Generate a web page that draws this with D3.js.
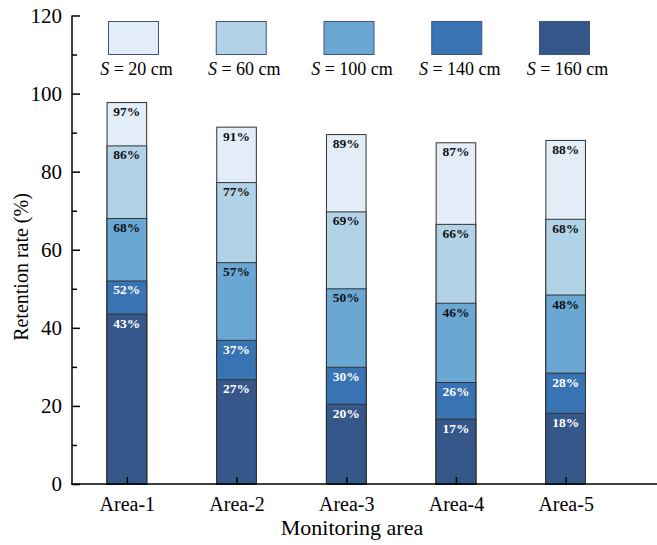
<html>
<head>
    <script src="https://d3js.org/d3.v7.min.js"></script>
    <style>
        body { margin: 0; background: #fff; }
        text { font-family: "Liberation Serif", "Times New Roman", serif; }
    </style>
</head>
<body>
    <svg height="545" width="657" id="chart"></svg>
    <script>
        const areas = ["Area-1", "Area-2", "Area-3", "Area-4", "Area-5"];
        const spacings = ["20", "60", "100", "140", "160"];
        // retention rate per spacing, one value per area
        const s20 = [97.7, 91.4, 89.5, 87.4, 88.0];
        const s60 = [86.6, 77.2, 69.7, 66.5, 67.8];
        const s100 = [68.0, 56.7, 50.0, 46.3, 48.4];
        const s140 = [52.0, 36.8, 29.9, 26.0, 28.4];
        const s160 = [43.5, 26.7, 20.4, 16.6, 18.1];
        const labels20 = ["97%", "91%", "89%", "87%", "88%"];
        const labels60 = ["86%", "77%", "69%", "66%", "68%"];
        const labels100 = ["68%", "57%", "50%", "46%", "48%"];
        const labels140 = ["52%", "37%", "30%", "26%", "28%"];
        const labels160 = ["43%", "27%", "20%", "17%", "18%"];
        const yTicks = [0, 20, 40, 60, 80, 100, 120];
        const yMinorTicks = [10, 30, 50, 70, 90, 110];

        const colors = ["#e3edf8", "#b2d3e7", "#6aa8d3", "#3873b3", "#36578a"];
        const textColors = ["#111", "#111", "#111", "#fff", "#fff"];

        const seriesValues = [s20, s60, s100, s140, s160];
        const seriesLabels = [labels20, labels60, labels100, labels140, labels160];

        const svg = d3.select("#chart");
        const plotLeft = 72, plotRight = 620.5, plotTop = 15.5, plotBottom = 484;

        const xScale = d3.scalePoint().domain(areas).range([plotLeft, plotRight]).padding(0.5);
        const yScale = d3.scaleLinear().domain([0, 120]).range([plotBottom, plotTop]);
        const barWidth = 39.6;

        // bars: overlapping, tallest first
        spacings.forEach((s, i) => {
            const rows = areas.map((a, j) => ({ area: a, value: seriesValues[i][j], label: seriesLabels[i][j] }));
            const g = svg.append("g");
            g.selectAll("rect").data(rows)
                .join("rect")
                .attr("x", d => xScale(d.area) - barWidth / 2)
                .attr("y", d => yScale(d.value))
                .attr("width", barWidth)
                .attr("height", d => yScale(0) - yScale(d.value))
                .attr("fill", colors[i])
                .attr("stroke", "#333")
                .attr("stroke-width", 1);
            g.selectAll("text").data(rows)
                .join("text")
                .attr("x", d => xScale(d.area))
                .attr("y", d => yScale(d.value) + 13.5)
                .attr("text-anchor", "middle")
                .style("font-size", "13.5px")
                .style("font-weight", "bold")
                .style("fill", textColors[i])
                .text(d => d.label);
        });

        // y axis
        const yAxis = d3.axisLeft(yScale).tickValues(yTicks).tickSize(-8).tickPadding(10);
        const yG = svg.append("g")
            .attr("transform", `translate(${plotLeft},0)`)
            .call(yAxis);
        yG.select(".domain").remove();
        yG.selectAll(".tick line").attr("stroke", "#000").attr("stroke-width", 1.5);
        yG.selectAll(".tick text")
            .style("font-size", "21px")
            .style("font-family", "Liberation Serif")
            .attr("fill", "#000");

        const yMinor = d3.axisLeft(yScale).tickValues(yMinorTicks).tickSize(-5).tickFormat("");
        const yMinorG = svg.append("g")
            .attr("transform", `translate(${plotLeft},0)`)
            .call(yMinor);
        yMinorG.select(".domain").remove();
        yMinorG.selectAll(".tick line").attr("stroke", "#000").attr("stroke-width", 1.5);

        svg.append("line")
            .attr("x1", plotLeft).attr("x2", plotLeft)
            .attr("y1", plotTop).attr("y2", plotBottom + 0.75)
            .attr("stroke", "#000").attr("stroke-width", 1.5);

        // x axis
        const xAxis = d3.axisBottom(xScale).tickSize(-7).tickPadding(13);
        const xG = svg.append("g")
            .attr("transform", `translate(0,${plotBottom})`)
            .call(xAxis);
        xG.select(".domain").remove();
        xG.selectAll(".tick line").attr("stroke", "#000").attr("stroke-width", 1.5);
        xG.selectAll(".tick text")
            .style("font-size", "20px")
            .style("font-family", "Liberation Serif")
            .attr("fill", "#000");

        svg.append("line")
            .attr("x1", plotLeft - 0.75).attr("x2", 657)
            .attr("y1", plotBottom).attr("y2", plotBottom)
            .attr("stroke", "#000").attr("stroke-width", 1.5);

        // axis titles
        svg.append("text")
            .attr("text-anchor", "middle")
            .attr("x", 352)
            .attr("y", 535)
            .style("font-size", "22px")
            .text("Monitoring area");

        svg.append("text")
            .attr("text-anchor", "middle")
            .attr("transform", "translate(28,267) rotate(-90)")
            .style("font-size", "20px")
            .text("Retention rate (%)");

        // legend
        const legendX = d3.scaleLinear().domain([0, 4]).range([108.5, 539.5]);
        const legend = svg.selectAll(".legend").data(spacings)
            .join("g")
            .attr("class", "legend")
            .attr("transform", (d, i) => `translate(${legendX(i)},21.5)`);
        legend.append("rect")
            .attr("width", 50)
            .attr("height", 33)
            .attr("fill", (d, i) => colors[i])
            .attr("stroke", "#3f5580")
            .attr("stroke-width", 1);
        const lt = legend.append("text")
            .attr("x", 28)
            .attr("y", 53.5)
            .attr("text-anchor", "middle")
            .style("font-size", "18px");
        lt.append("tspan").style("font-style", "italic").text("S");
        lt.append("tspan").text(d => " = " + d + " cm");
    </script>
</body>
</html>
